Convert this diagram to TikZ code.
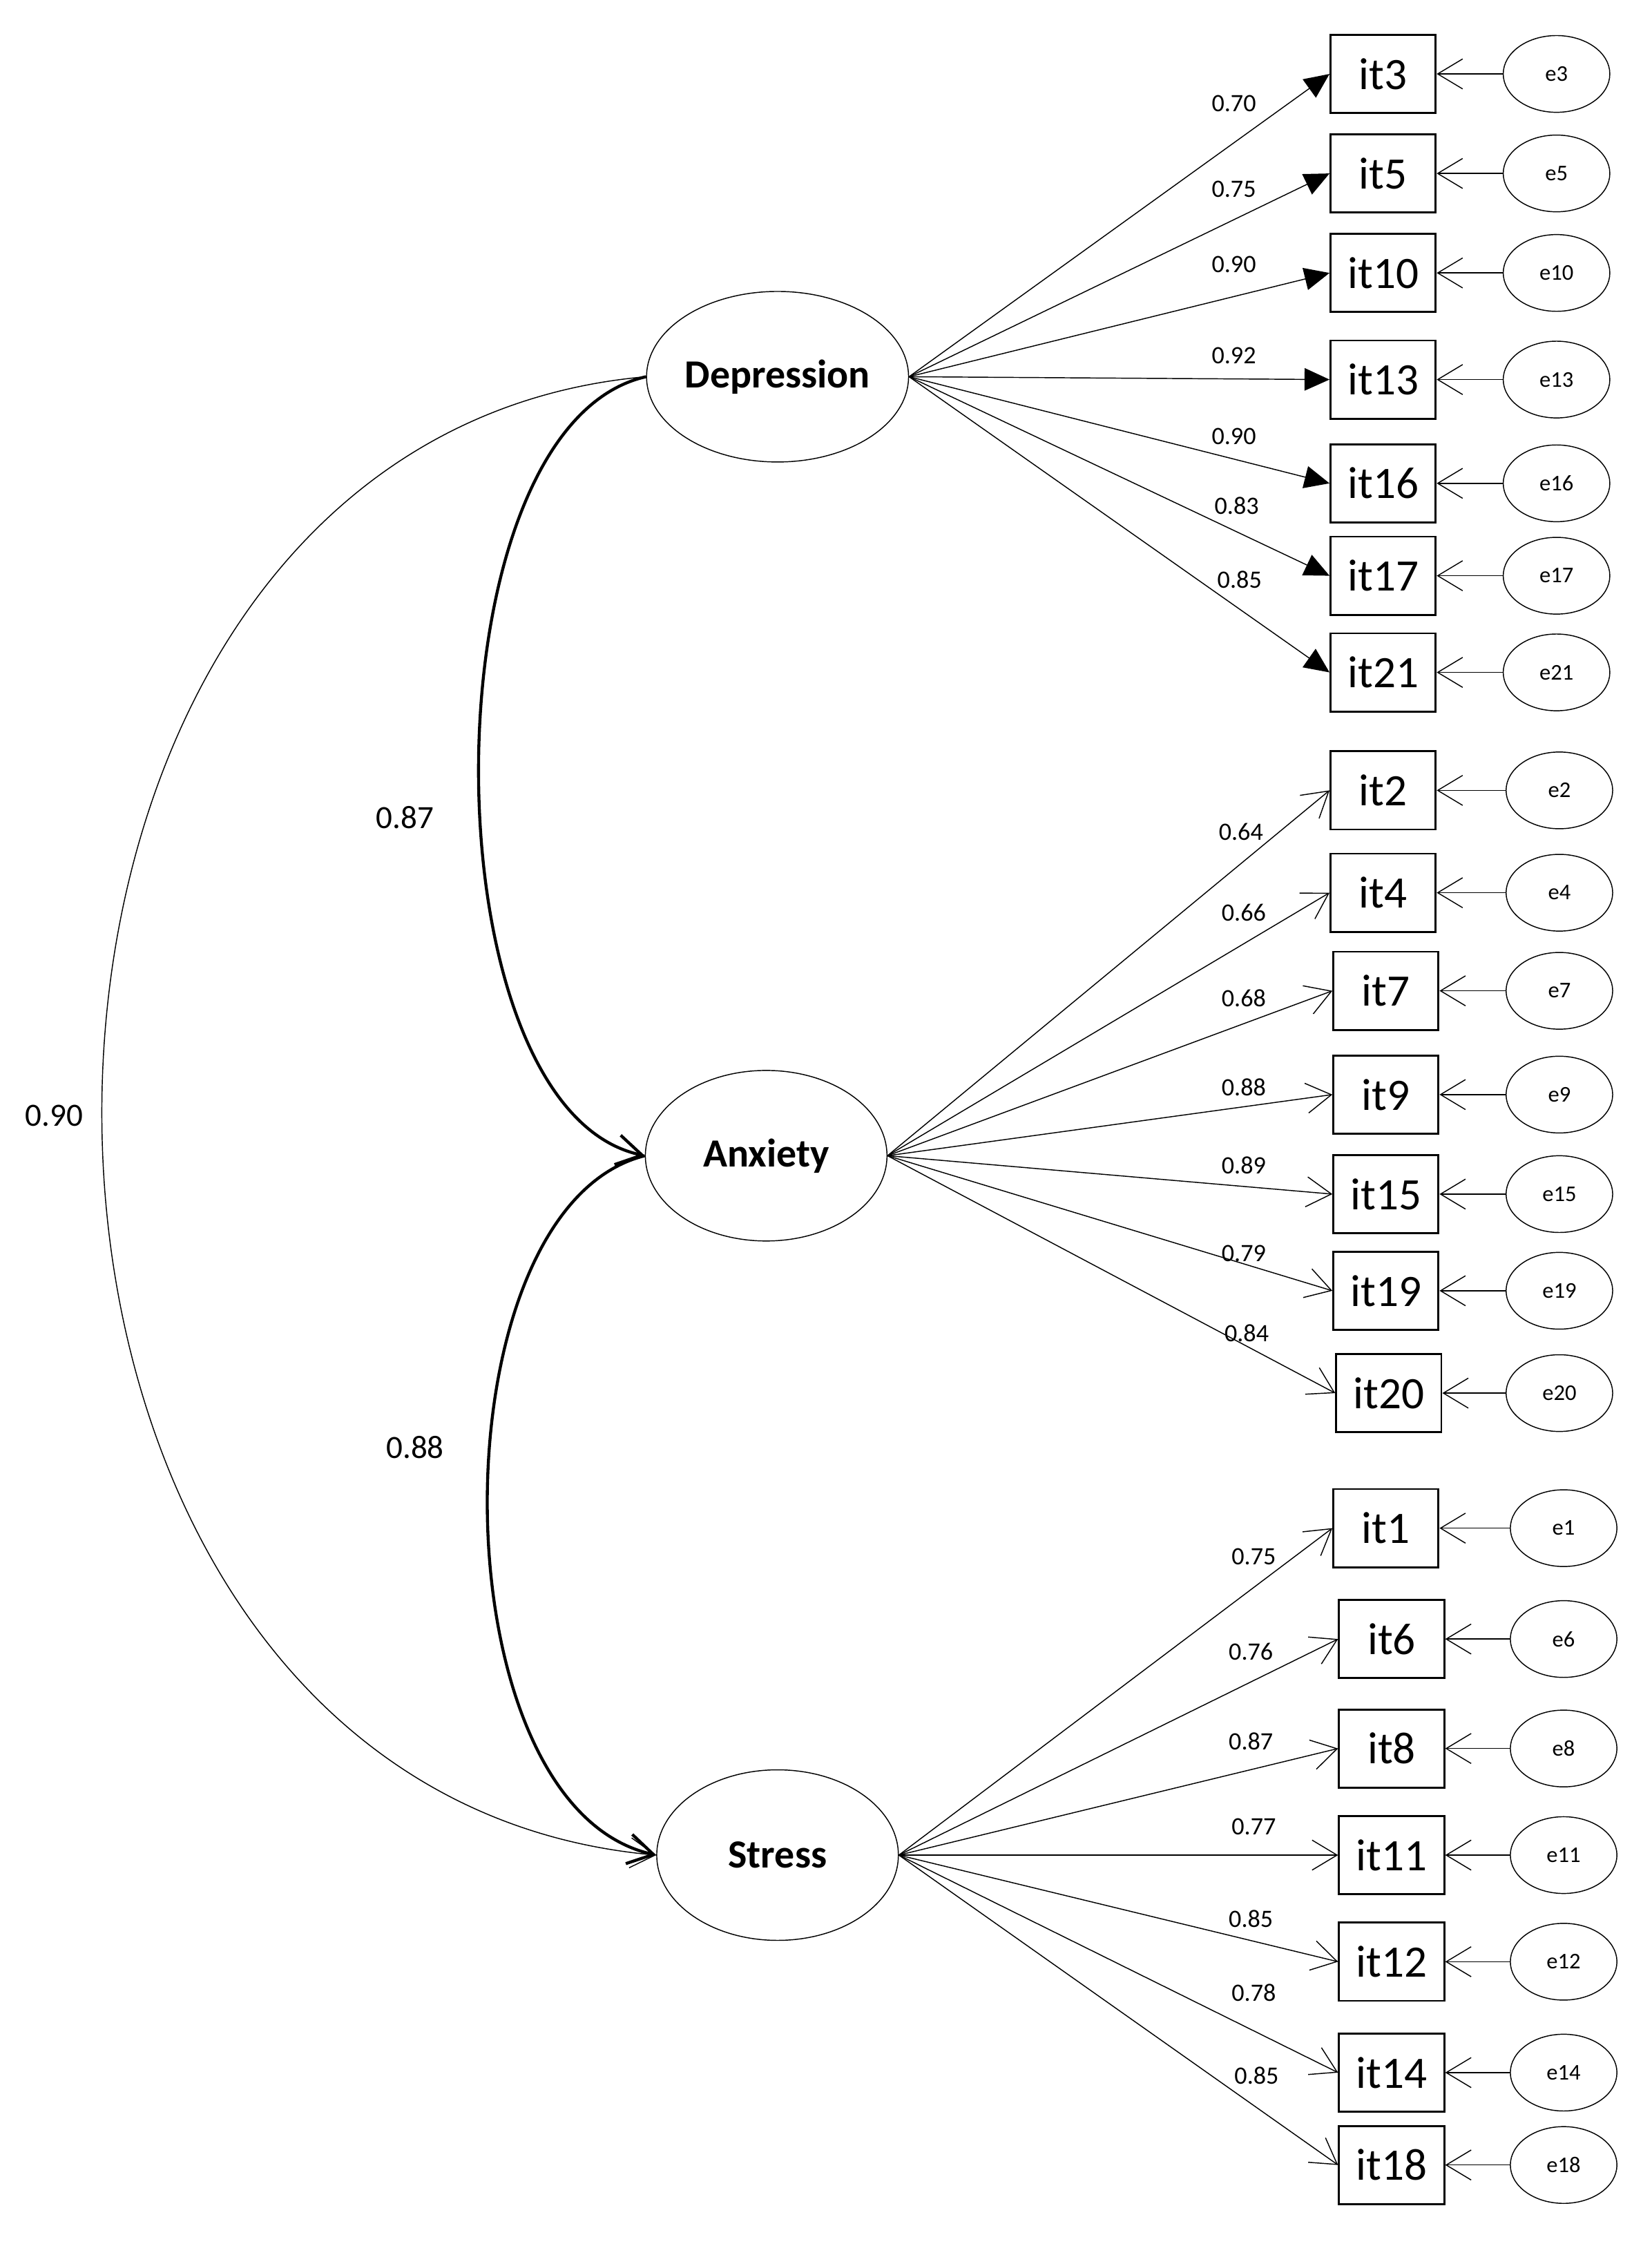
\documentclass[tikz,border=0pt]{standalone}
\usepackage{fontspec}
\setmainfont{Carlito}
\usetikzlibrary{shapes.geometric,arrows.meta}
\begin{document}
\begin{tikzpicture}[x=0.02cm,y=-0.02cm,
 lat/.style={ellipse,draw,minimum width=3.4cm,minimum height=2.4cm,font=\fontsize{16}{18}\selectfont\bfseries,inner sep=0pt},
 item/.style={rectangle,draw,thick,minimum width=1.48cm,minimum height=1.1cm,font=\fontsize{18}{20}\selectfont,inner sep=0pt},
 err/.style={ellipse,draw,minimum width=1.5cm,minimum height=1.08cm,font=\fontsize{9}{10}\selectfont,inner sep=0pt},
 load/.style={font=\fontsize{10}{12}\selectfont},
 farr/.style={-{Triangle[length=10pt,width=9pt]}},
 oarr/.style={-{Straight Barb[length=10pt,width=12pt]}},
 cov/.style={-{Straight Barb[length=10pt,width=12pt]}}]
\useasboundingbox (0,0) rectangle (1162,1580);
\node[lat] (dep) at (547,265) {Depression};
\node[lat] (anx) at (539,813) {Anxiety};
\node[lat] (str) at (547,1305) {Stress};
\foreach \n/\y/\x/\l/\lx/\ly in {3/52/973/0.70/868/73,5/122/973/0.75/868/133,10/192/973/0.90/868/186,13/267/973/0.92/868/250,16/340/973/0.90/868/307,17/405/973/0.83/870/356,21/473/973/0.85/872/408}{
 \node[item] (it\n) at (\x,\y) {it\n};
 \node[err] (e\n) at (1095,\y) {e\n};
 \draw[farr] (dep.east) -- (it\n.west);
 \draw[oarr] (e\n) -- (it\n.east);
 \node[load] (l\n) at (\lx,\ly) {\l};
}
\foreach \n/\y/\x/\l/\lx/\ly in {2/556/973/0.64/873/585,4/628/973/0.66/875/642,7/697/975/0.68/875/702,9/770/975/0.88/875/765,15/840/975/0.89/875/820,19/908/975/0.79/875/882,20/980/977/0.84/877/938}{
 \node[item] (it\n) at (\x,\y) {it\n};
 \node[err] (e\n) at (1097,\y) {e\n};
 \draw[oarr] (anx.east) -- (it\n.west);
 \draw[oarr] (e\n) -- (it\n.east);
 \node[load] (l\n) at (\lx,\ly) {\l};
}
\foreach \n/\y/\x/\l/\lx/\ly in {1/1075/975/0.75/882/1095,6/1153/979/0.76/880/1162,8/1230/979/0.87/880/1225,11/1305/979/0.77/882/1285,12/1380/979/0.85/880/1350,14/1458/979/0.78/882/1402,18/1523/979/0.85/884/1460}{
 \node[item] (it\n) at (\x,\y) {it\n};
 \node[err] (e\n) at (1100,\y) {e\n};
 \draw[oarr] (str.east) -- (it\n.west);
 \draw[oarr] (e\n) -- (it\n.east);
 \node[load] (l\n) at (\lx,\ly) {\l};
}
\draw[cov,very thick] (dep.west) .. controls (298,300) and (298,780) .. (anx.west);
\draw[cov,very thick] (anx.west) .. controls (305,850) and (305,1270) .. (str.west);
\draw[cov] (dep.west) .. controls (-57,310) and (-57,1260) .. (str.west);
\node[font=\fontsize{13}{15}\selectfont] (c1) at (285,575) {0.87};
\node[font=\fontsize{13}{15}\selectfont] (c2) at (292,1018) {0.88};
\node[font=\fontsize{13}{15}\selectfont] (c3) at (38,785) {0.90};
\end{tikzpicture}
\end{document}
